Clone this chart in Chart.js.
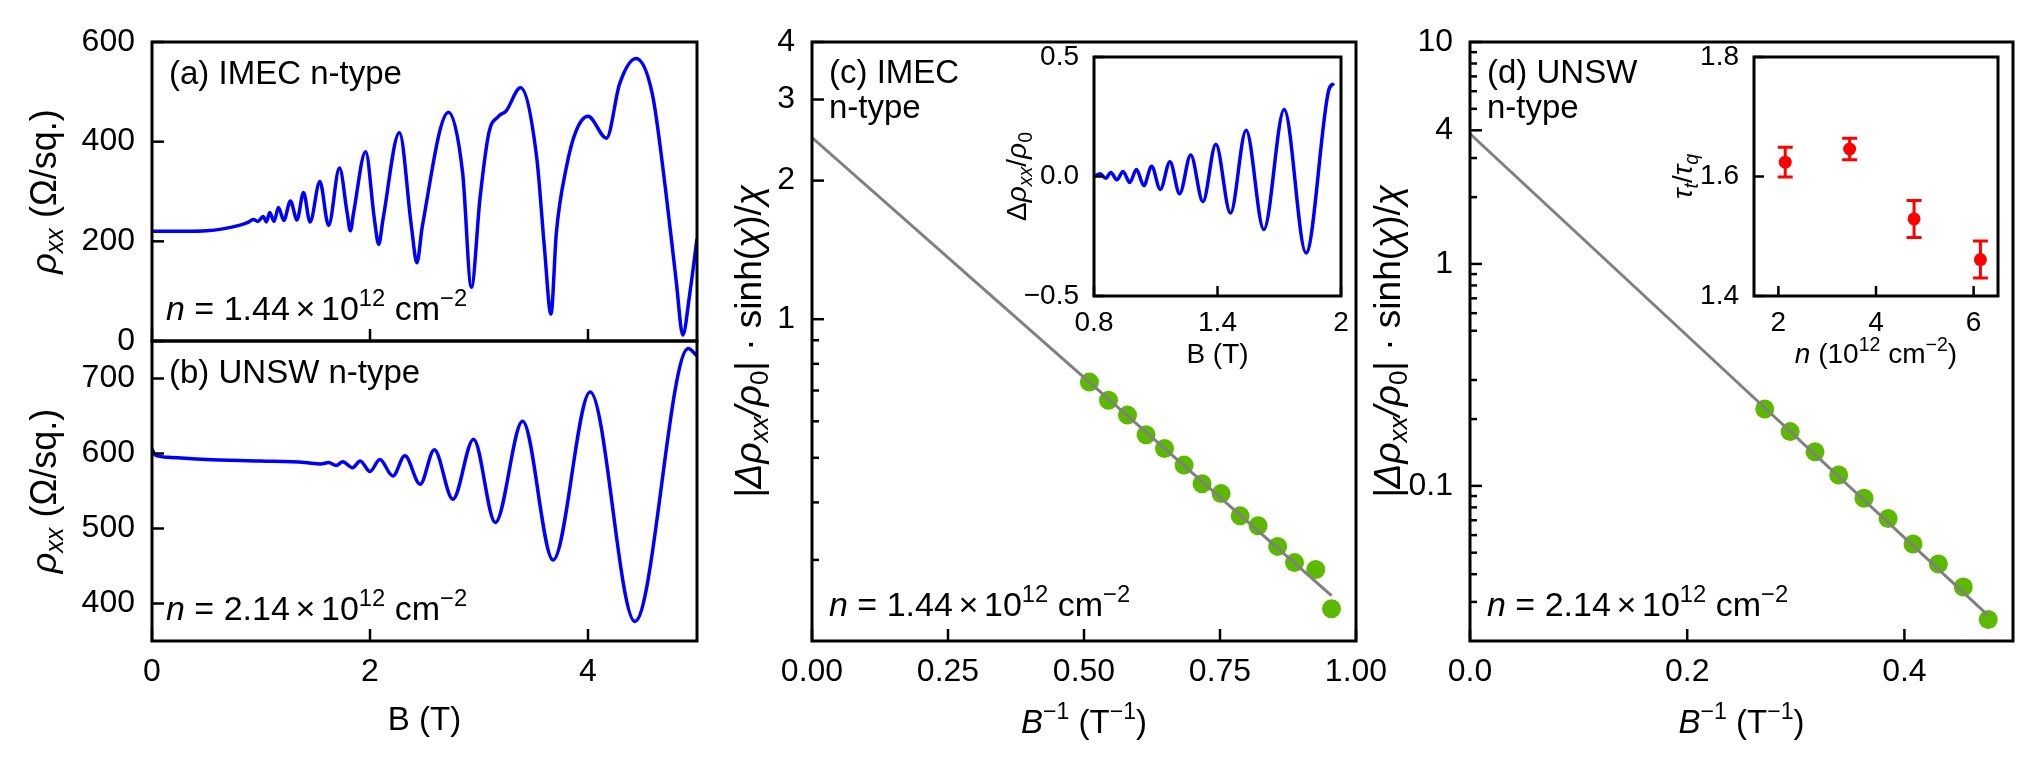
<!DOCTYPE html>
<html><head><meta charset="utf-8">
<script src="https://cdn.jsdelivr.net/npm/chart.js@4.4.1/dist/chart.umd.min.js"></script>
<style>
html,body{margin:0;padding:0;background:#fff;}
#wrap{position:relative;width:2043px;height:776px;overflow:hidden;background:#fff;}
canvas{position:absolute;left:0;top:0;}
</style></head><body><div id="wrap">
<canvas id="cA" width="2043" height="776"></canvas>
<canvas id="cB" width="2043" height="776"></canvas>
<canvas id="cC" width="2043" height="776"></canvas>
<canvas id="cCin" width="2043" height="776"></canvas>
<canvas id="cD" width="2043" height="776"></canvas>
<canvas id="cDin" width="2043" height="776"></canvas>
</div>
<script>
// ---------------- DATA ----------------
// (a) IMEC n-type: rho_xx vs B
const bFieldA = [0,0.3,0.5,0.65,0.8,0.88,0.93,0.97,1.02,1.05,1.08,1.12,1.16,1.21,1.27,1.33,1.39,1.45,1.54,1.62,1.72,1.79,1.82,1.85,1.96,2.04,2.08,2.12,2.27,2.38,2.43,2.48,2.72,2.85,2.93,3.01,3.09,3.18,3.25,3.38,3.53,3.60,3.66,3.71,3.80,3.89,4.00,4.17,4.29,4.44,4.59,4.71,4.81,4.87,4.93,5.00];
const rhoA    = [220,220,221,225,232,238,244,240,250,239,258,240,268,242,281,243,298,239,320,232,347,258,221,258,380,245,194,245,418,230,157,230,459,337,108,288,417,451,462,508,367,188,54,218,347,421,451,407,516,567,496,307,119,12,89,205];
// (b) UNSW n-type: rho_xx vs B
const bFieldB = [0,0.03,0.15,0.5,1.0,1.4,1.55,1.62,1.69,1.75,1.84,1.91,2.00,2.09,2.21,2.32,2.46,2.59,2.76,2.95,3.15,3.40,3.68,4.02,4.43,4.92,5.00];
const rhoB    = [606,598,595,592,590,588,586,588,584,589,581,590,576,592,570,597,559,605,539,619,508,643,458,682,376,740,730];
// (c) IMEC amplitude vs 1/B
const invBC = [0.510,0.545,0.580,0.614,0.648,0.684,0.717,0.752,0.787,0.820,0.856,0.887,0.926,0.955];
const ampC  = [0.730,0.667,0.619,0.561,0.524,0.482,0.439,0.418,0.374,0.356,0.321,0.296,0.286,0.235];
const fitInvBC = [0, 0.955];
const fitAmpC  = [2.48, 0.251];
// (c) inset: delta rho / rho0 vs B
const bInsetC  = [0.80,0.83,0.857,0.882,0.911,0.941,0.974,1.006,1.042,1.080,1.122,1.169,1.216,1.270,1.329,1.392,1.463,1.539,1.625,1.724,1.830,1.94,1.965];
const dRhoInsetC = [0.000,0.011,-0.007,0.017,-0.014,0.021,-0.025,0.029,-0.038,0.043,-0.054,0.062,-0.072,0.090,-0.105,0.135,-0.153,0.194,-0.222,0.280,-0.320,0.36,0.39];
// (d) UNSW amplitude vs 1/B
const invBD = [0.2714,0.2948,0.3177,0.3395,0.3628,0.3850,0.4079,0.4313,0.4542,0.4772];
const ampD  = [0.222,0.1756,0.1423,0.1119,0.0880,0.0713,0.0547,0.0445,0.0350,0.0250];
const fitInvBD = [0, 0.477];
const fitAmpD  = [3.86, 0.0261];
// (d) inset: tau_t/tau_q vs n
const densityD = [2.14,3.46,4.78,6.14];
const tauRatio = [1.624,1.646,1.529,1.461];
const tauErr   = [0.025,0.018,0.031,0.031];
// tick labels
const ticksAy = [0,200,400,600];           const labelsAy = ['0','200','400','600'];
const ticksAx = [0,2,4];
const ticksBy = [400,500,600,700];         const labelsBy = ['400','500','600','700'];
const ticksBx = [0,2,4];                   const labelsBx = ['0','2','4'];
const ticksCx = [0,0.25,0.5,0.75,1];       const labelsCx = ['0.00','0.25','0.50','0.75','1.00'];
const ticksCy = [1,2,3,4];                 const labelsCy = ['1','2','3','4'];
const minorCy = [0.3,0.4,0.5,0.6,0.7,0.8,0.9];
const ticksCinX = [0.8,1.4,2.0];           const labelsCinX = ['0.8','1.4','2'];
const ticksCinY = [-0.5,0,0.5];            const labelsCinY = ['\u22120.5','0.0','0.5'];
const ticksDx = [0,0.2,0.4];               const labelsDx = ['0.0','0.2','0.4'];
const ticksDy = [0.1,1,4,10];              const labelsDy = ['0.1','1','4','10'];
const minorDy = [0.03,0.04,0.05,0.06,0.07,0.08,0.09,0.2,0.3,0.5,0.6,0.7,0.8,0.9,2,3,5,6,7,8,9];
const ticksDinX = [2,4,6];                 const labelsDinX = ['2','4','6'];
const ticksDinY = [1.4,1.6,1.8];           const labelsDinY = ['1.4','1.6','1.8'];

// ---------------- STYLE / LAYOUT ----------------
const W = 2043, H = 776;
const BLUE = '#0000ff', GREEN = '#5cb900', GRAY = '#808080', RED = '#ff0000';
const FS = 32, FSI = 28, FT = 33;
const FONT = '"Liberation Sans", Arial, sans-serif';

function pts(xs, ys){ return xs.map((x,i)=>({x:x, y:ys[i]})); }

function drawRich(ctx, segs, x, y, size, align, rot){
  ctx.save();
  ctx.translate(x, y);
  if (rot) ctx.rotate(rot);
  const parts = segs.map(s => {
    const sz = ((s.sub || s.sup) ? size*0.7 : size) * (s.k || 1);
    const font = (s.it ? 'italic ' : '') + sz + 'px ' + FONT;
    ctx.font = font;
    return {t:s.t, font:font, w:ctx.measureText(s.t).width, dy: s.sub ? size*0.2 : (s.sup ? -size*0.42 : 0)};
  });
  const total = parts.reduce((a,p)=>a+p.w, 0);
  let cx = align === 'center' ? -total/2 : (align === 'right' ? -total : 0);
  ctx.fillStyle = '#000'; ctx.textAlign = 'left'; ctx.textBaseline = 'alphabetic';
  parts.forEach(p => { ctx.font = p.font; ctx.fillText(p.t, cx, p.dy); cx += p.w; });
  ctx.restore();
}

const DECOR = {};
const decorPlugin = {
  id: 'decor',
  beforeDraw(chart){
    const d = DECOR[chart.canvas.id]; if (!d || !d.bg) return;
    const a = chart.chartArea, ctx = chart.ctx;
    ctx.save(); ctx.fillStyle = '#fff';
    ctx.fillRect(a.left, a.top, a.right-a.left, a.bottom-a.top); ctx.restore();
  },
  afterDatasetsDraw(chart){
    const d = DECOR[chart.canvas.id]; if (!d) return;
    const a = chart.chartArea, ctx = chart.ctx, sx = chart.scales.x, sy = chart.scales.y;
    ctx.save();
    if (d.err) {
      ctx.strokeStyle = RED; ctx.lineWidth = 3;
      d.err.x.forEach((xv, i) => {
        const px = sx.getPixelForValue(xv);
        const p1 = sy.getPixelForValue(d.err.y[i] - d.err.e[i]);
        const p2 = sy.getPixelForValue(d.err.y[i] + d.err.e[i]);
        ctx.beginPath();
        ctx.moveTo(px, p1); ctx.lineTo(px, p2);
        ctx.moveTo(px-7.5, p1); ctx.lineTo(px+7.5, p1);
        ctx.moveTo(px-7.5, p2); ctx.lineTo(px+7.5, p2);
        ctx.stroke();
      });
    }
    ctx.strokeStyle = '#000'; ctx.lineWidth = 2.5;
    const tk = (vals, len, isX) => (vals||[]).forEach(v => {
      const p = (isX ? sx : sy).getPixelForValue(v);
      ctx.beginPath();
      if (isX) { ctx.moveTo(p, a.bottom); ctx.lineTo(p, a.bottom - len); }
      else { ctx.moveTo(a.left, p); ctx.lineTo(a.left + len, p); }
      ctx.stroke();
    });
    tk(d.xMajor, d.tl || 12, true);
    tk(d.yMajor, d.tl || 12, false);
    tk(d.yMinor, 7, false);
    ctx.lineWidth = 3; ctx.strokeStyle = '#000';
    ctx.strokeRect(a.left, a.top, a.right-a.left, a.bottom-a.top);
    (d.texts||[]).forEach(t => drawRich(ctx, t.segs, t.x, t.y, t.size || FT, t.align || 'left', t.rot || 0));
    ctx.restore();
  }
};
Chart.register(decorPlugin);

function axisCfg(ax, isX, fs, box){
  return {
    type: ax.type || 'linear', min: ax.min, max: ax.max,
    position: isX ? 'bottom' : 'left',
    afterFit: s => { if (isX) s.height = box; else s.width = box; },
    afterBuildTicks: s => { s.ticks = ax.ticks.map(v => ({value: v})); },
    grid: {display: false, drawTicks: false},
    border: {display: false},
    ticks: {
      display: !!ax.labels, padding: ax.pad, color: '#000', autoSkip: false, maxRotation: 0, minRotation: 0,
      font: {family: FONT, size: fs},
      callback: (v, i) => ax.labels ? ax.labels[i] : ''
    }
  };
}

function makePanel(id, rect, xa, ya, datasets, fs, decor){
  const [l, t, r, b] = rect;
  const yw = 140, xh = 70;
  DECOR[id] = decor;
  return new Chart(document.getElementById(id), {
    type: 'scatter',
    data: {datasets: datasets},
    options: {
      responsive: false, animation: false, devicePixelRatio: 1,
      layout: {padding: {left: l - yw, top: t, right: W - r, bottom: H - b - xh}},
      plugins: {legend: {display: false}, tooltip: {enabled: false}, title: {display: false}},
      scales: {x: axisCfg(xa, true, fs, xh), y: axisCfg(ya, false, fs, yw)},
      events: []
    }
  });
}

const curve = (data, color, w) => ({data: data, showLine: true, borderColor: color, borderWidth: w, pointRadius: 0, cubicInterpolationMode: 'monotone', fill: false});
const dots = (data, color, r) => ({data: data, showLine: false, backgroundColor: color, borderWidth: 0, pointRadius: r, pointHoverRadius: r});

// text segments
const rhoLabel = [{t:'\u03c1', it:1}, {t:'xx', it:1, sub:1}, {t:' (\u03a9/sq.)'}];
const ampLabel = [{t:'|\u0394', it:1}, {t:'\u03c1', it:1}, {t:'xx', it:1, sub:1}, {t:'/', it:1}, {t:'\u03c1', it:1}, {t:'0', sub:1}, {t:'| \u00b7 sinh('}, {t:'\u03c7', it:1}, {t:')/'}, {t:'\u03c7', it:1}];
const invBLabel = [{t:'B', it:1}, {t:'\u22121', sup:1}, {t:' (T'}, {t:'\u22121', sup:1}, {t:')'}];
const dens = s => [{t:'n', it:1}, {t:' = ' + s}, {t:' ', k:0.6}, {t:'\u00d7'}, {t:' ', k:0.6}, {t:'10'}, {t:'12', sup:1}, {t:' cm'}, {t:'\u22122', sup:1}];
const R90 = -Math.PI/2;
const FRHO = 36, FAMP = 37, FDEN = 34;

// panel rectangles
const RA = [152, 42, 697, 341], RB = [152, 341, 697, 641];
const RC = [812, 42, 1356, 641], RCin = [1094, 57, 1341, 296];
const RD = [1470, 42, 2013, 641], RDin = [1754, 57, 1998, 296];

// (a)
makePanel('cA', RA,
  {min:0, max:5, ticks:ticksAx, labels:null, pad:13},
  {min:0, max:600, ticks:ticksAy, labels:labelsAy, pad:17},
  [curve(pts(bFieldA, rhoA), BLUE, 3.5)], FS,
  {xMajor:ticksAx, yMajor:ticksAy, texts:[
    {segs:[{t:'(a) IMEC n-type'}], x:RA[0]+17, y:RA[1]+42},
    {segs:dens('1.44'), x:RA[0]+14, y:RA[3]-21, size:FDEN},
    {segs:rhoLabel, x:RA[0]-96, y:(RA[1]+RA[3])/2, size:FRHO, align:'center', rot:R90}
  ]});
// (b)
makePanel('cB', RB,
  {min:0, max:5, ticks:ticksBx, labels:labelsBx, pad:12},
  {min:350, max:750, ticks:ticksBy, labels:labelsBy, pad:17},
  [curve(pts(bFieldB, rhoB), BLUE, 3.5)], FS,
  {xMajor:ticksBx, yMajor:ticksBy, texts:[
    {segs:[{t:'(b) UNSW n-type'}], x:RB[0]+17, y:RB[1]+42},
    {segs:dens('2.14'), x:RB[0]+14, y:RB[3]-21, size:FDEN},
    {segs:rhoLabel, x:RB[0]-96, y:(RB[1]+RB[3])/2, size:FRHO, align:'center', rot:R90},
    {segs:[{t:'B (T)'}], x:(RB[0]+RB[2])/2, y:730, align:'center'}
  ]});
// (c)
makePanel('cC', RC,
  {min:0, max:1, ticks:ticksCx, labels:labelsCx, pad:12},
  {type:'logarithmic', min:0.2, max:4, ticks:ticksCy, labels:labelsCy, pad:17},
  [curve(pts(fitInvBC, fitAmpC), GRAY, 3), dots(pts(invBC, ampC), GREEN, 9.5)], FS,
  {xMajor:ticksCx, yMajor:ticksCy, yMinor:minorCy, texts:[
    {segs:[{t:'(c) IMEC'}], x:RC[0]+17, y:RC[1]+41},
    {segs:[{t:'n-type'}], x:RC[0]+17, y:RC[1]+76},
    {segs:dens('1.44'), x:RC[0]+17, y:RC[3]-25, size:FDEN},
    {segs:ampLabel, x:RC[0]-51, y:(RC[1]+RC[3])/2, size:FAMP, align:'center', rot:R90},
    {segs:invBLabel, x:(RC[0]+RC[2])/2, y:733, align:'center'}
  ]});
// (c) inset
makePanel('cCin', RCin,
  {min:0.8, max:2.0, ticks:ticksCinX, labels:labelsCinX, pad:10},
  {min:-0.5, max:0.5, ticks:ticksCinY, labels:labelsCinY, pad:15},
  [curve(pts(bInsetC, dRhoInsetC), BLUE, 3.5)], FSI,
  {bg:true, tl:10, xMajor:ticksCinX, yMajor:ticksCinY, texts:[
    {segs:[{t:'\u0394'}, {t:'\u03c1', it:1}, {t:'xx', it:1, sub:1}, {t:'/'}, {t:'\u03c1', it:1}, {t:'0', sub:1}], x:RCin[0]-68, y:(RCin[1]+RCin[3])/2, size:FSI, align:'center', rot:R90},
    {segs:[{t:'B (T)'}], x:(RCin[0]+RCin[2])/2, y:363, size:FSI, align:'center'}
  ]});
// (d)
makePanel('cD', RD,
  {min:0, max:0.5, ticks:ticksDx, labels:labelsDx, pad:12},
  {type:'logarithmic', min:0.02, max:10, ticks:ticksDy, labels:labelsDy, pad:17},
  [curve(pts(fitInvBD, fitAmpD), GRAY, 3), dots(pts(invBD, ampD), GREEN, 9.5)], FS,
  {xMajor:ticksDx, yMajor:ticksDy, yMinor:minorDy, texts:[
    {segs:[{t:'(d) UNSW'}], x:RD[0]+17, y:RD[1]+41},
    {segs:[{t:'n-type'}], x:RD[0]+17, y:RD[1]+76},
    {segs:dens('2.14'), x:RD[0]+17, y:RD[3]-25, size:FDEN},
    {segs:ampLabel, x:RD[0]-70, y:(RD[1]+RD[3])/2, size:FAMP, align:'center', rot:R90},
    {segs:invBLabel, x:(RD[0]+RD[2])/2, y:733, align:'center'}
  ]});
// (d) inset
makePanel('cDin', RDin,
  {min:1.5, max:6.5, ticks:ticksDinX, labels:labelsDinX, pad:10},
  {min:1.4, max:1.8, ticks:ticksDinY, labels:labelsDinY, pad:15},
  [dots(pts(densityD, tauRatio), RED, 6.5)], FSI,
  {bg:true, tl:10, xMajor:ticksDinX, yMajor:ticksDinY, err:{x:densityD, y:tauRatio, e:tauErr}, texts:[
    {segs:[{t:'\u03c4', it:1}, {t:'t', it:1, sub:1}, {t:'/'}, {t:'\u03c4', it:1}, {t:'q', it:1, sub:1}], x:RDin[0]-62, y:(RDin[1]+RDin[3])/2, size:FSI, align:'center', rot:R90},
    {segs:[{t:'n', it:1}, {t:' (10'}, {t:'12', sup:1}, {t:' cm'}, {t:'\u22122', sup:1}, {t:')'}], x:(RDin[0]+RDin[2])/2, y:363, size:FSI, align:'center'}
  ]});
</script>
</body></html>
